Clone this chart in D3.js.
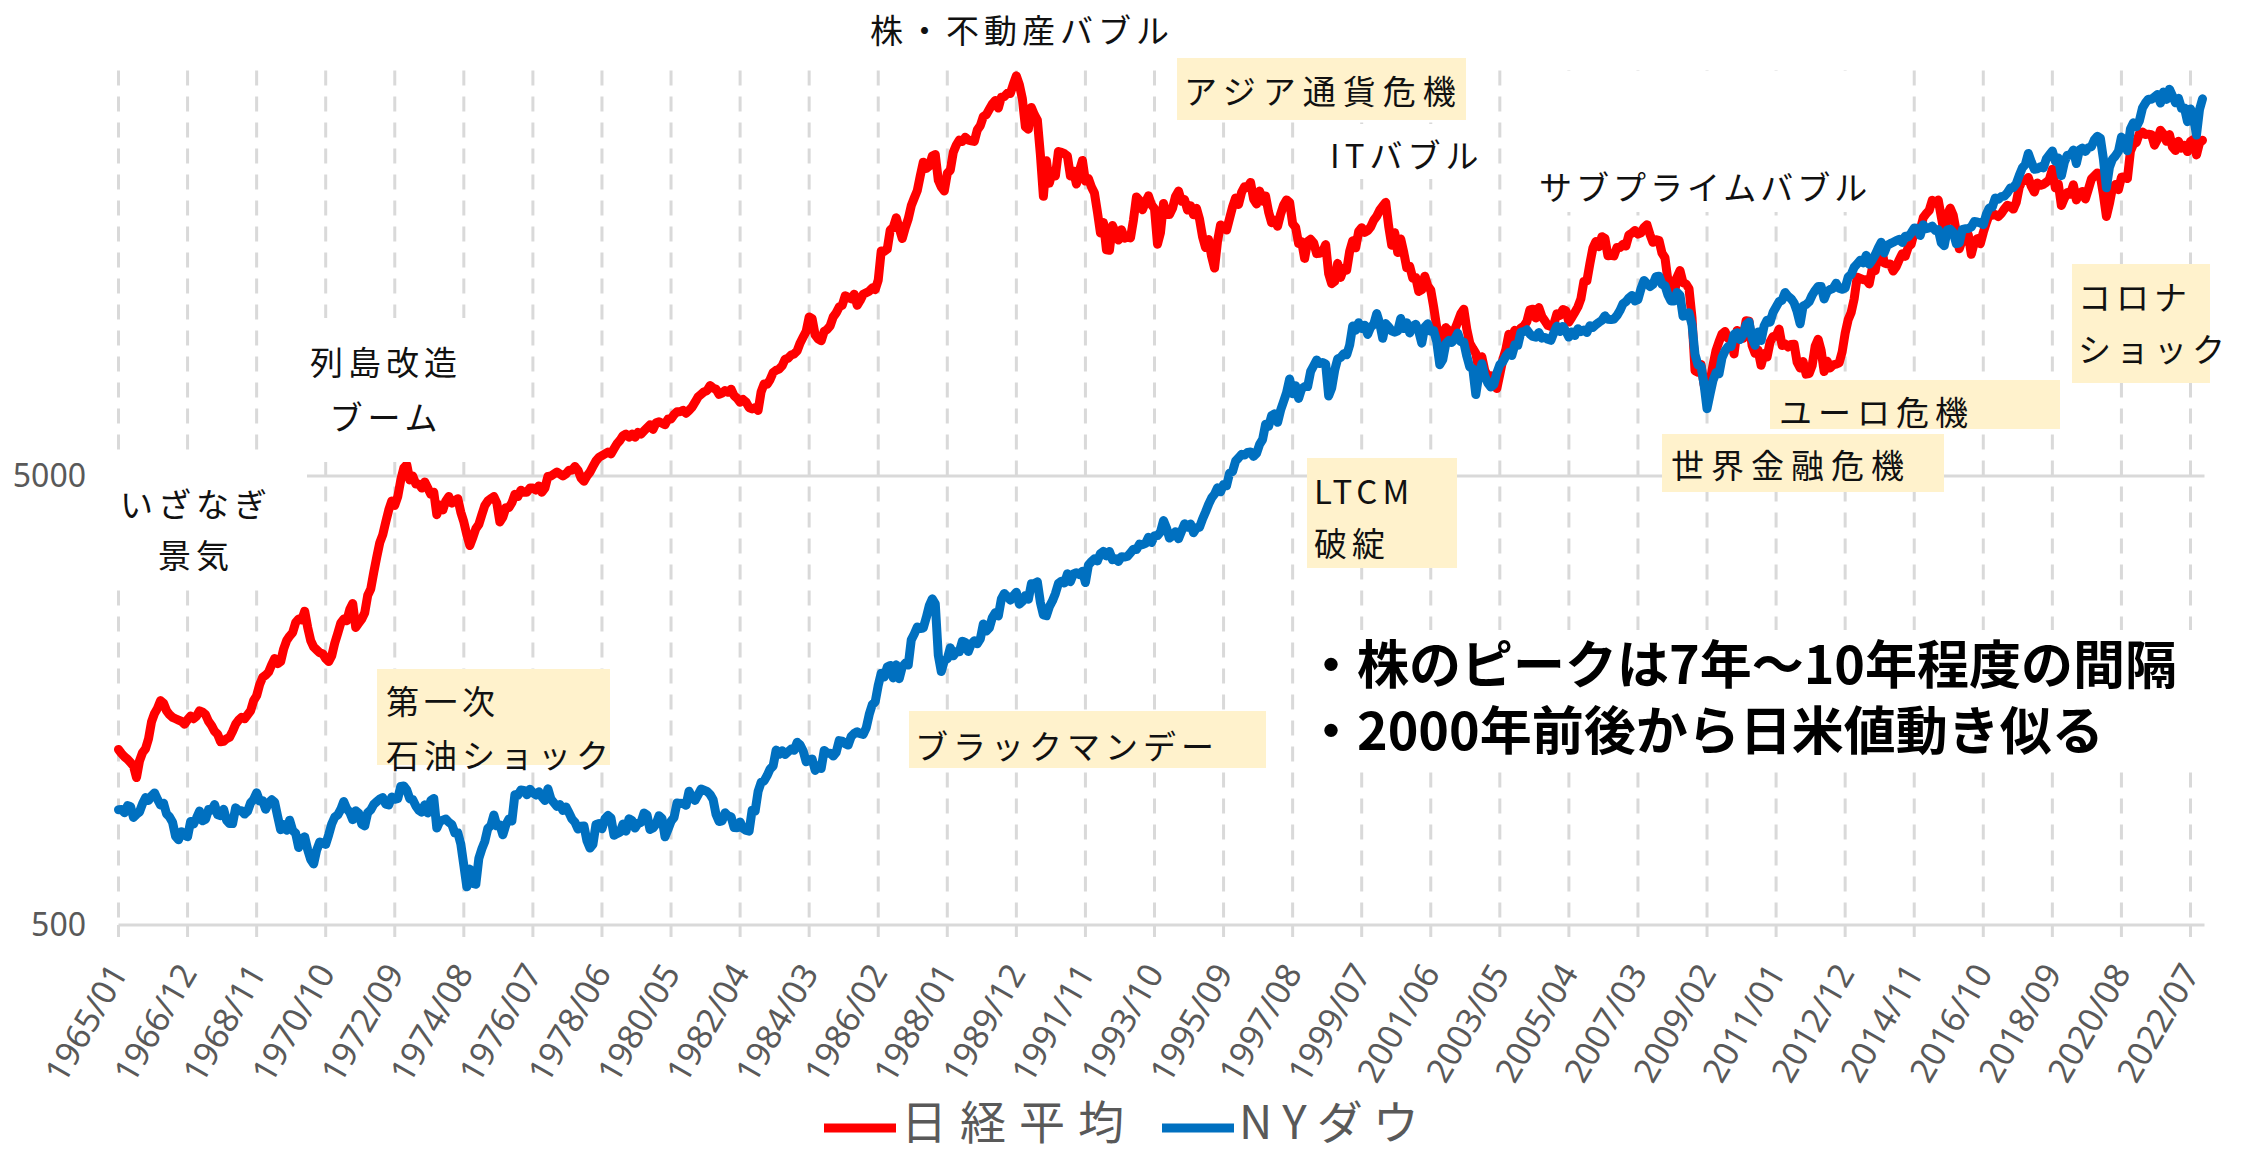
<!DOCTYPE html>
<html><head><meta charset="utf-8">
<script src="https://cdn.jsdelivr.net/npm/d3@7/dist/d3.min.js"></script>
<style>body{margin:0;background:#fff;} svg{display:block}</style>
</head><body>
<svg id="chart" width="2242" height="1153"></svg>
<script>
// ---- data ----
const startYear = 1965;
const seriesNames = ["日経平均", "NYダウ"];
// Nikkei 225 month-end (1965/01 - 2022/11)
const nikkei = [
1230,1205,1185,1170,1150,1130,1065,1160,1210,1235,1300,1418,
1480,1520,1580,1560,1500,1470,1450,1440,1430,1420,1400,1433,
1460,1440,1460,1500,1490,1470,1420,1390,1350,1330,1280,1283,
1300,1310,1350,1400,1430,1450,1440,1470,1500,1580,1620,1715,
1780,1800,1830,1900,1960,1910,1930,2060,2150,2200,2240,2359,
2400,2390,2500,2300,2150,2080,2050,2020,2010,1960,1930,1987,
2120,2230,2350,2400,2380,2520,2600,2300,2350,2400,2480,2714,
2800,3050,3300,3550,3700,3950,4200,4400,4300,4500,4900,5208,
5300,4900,5000,4800,4800,4700,4850,4700,4550,4600,4100,4307,
4200,4400,4500,4350,4400,4450,4150,3950,3700,3500,3650,3817,
3900,4100,4300,4400,4450,4500,4350,3950,4050,4250,4250,4359,
4550,4500,4650,4600,4600,4700,4700,4650,4750,4600,4700,4991,
5000,5050,5100,5050,5000,5050,5150,5150,5250,5150,4950,4866,
5000,5100,5250,5400,5500,5550,5600,5650,5600,5750,5900,6002,
6150,6200,6100,6200,6100,6250,6200,6300,6400,6500,6350,6569,
6600,6550,6500,6700,6700,6850,6950,6950,7000,6900,7000,7116,
7300,7500,7600,7700,7750,7950,7850,7800,7600,7650,7750,7682,
7800,7550,7450,7300,7400,7300,7100,7050,7100,7000,7700,8017,
8000,8200,8500,8600,8650,8800,9100,9150,9300,9350,9500,9894,
10200,10500,11300,11200,10300,10100,10000,10500,10600,10800,11300,11543,
11900,12000,12600,12500,12400,12700,12000,12300,12700,12800,12900,13113,
13000,13650,15860,15825,16000,17650,17900,18800,17800,16900,17850,18701,
20000,20800,21600,23300,25000,24200,24500,25800,26000,22800,22000,21564,
23600,24000,26300,27300,28000,27800,28400,28000,27900,27800,29500,30159,
31600,31900,32800,33700,34300,33000,34900,35000,35600,35550,37300,38916,
37200,34600,29980,29600,33100,31900,31000,25980,20980,25190,22450,23849,
23290,26410,26290,26110,25790,23290,23900,22340,23920,25220,22690,22984,
22020,21340,19350,17390,18350,15950,15910,18060,17400,16770,17680,16925,
17020,16950,18590,20920,20550,19590,20380,21030,20100,19700,16410,17417,
20230,19110,19110,19730,20970,21550,20450,20630,19560,19990,19080,19723,
18650,17050,16140,16810,15440,14520,16680,18120,17910,17650,18740,19868,
20810,20120,21410,22040,21960,22530,20690,20170,21560,20470,21020,19361,
18330,18560,18000,19150,20070,20600,20330,18230,17890,16460,16630,15259,
16630,16830,16530,15640,15670,15830,16380,14110,13410,13560,14880,13842,
14500,14370,15840,16700,16110,17530,17860,17440,17600,17940,18560,18934,
19540,19960,20340,17970,16330,17410,15730,16860,15750,14540,14650,13786,
13840,12880,13000,13930,13260,12970,11860,10710,9770,10370,10700,10543,
9990,10590,11020,11490,11760,10620,9880,9620,9380,8640,9220,8579,
8340,8360,7970,7830,8420,9080,9560,10340,10220,10560,10100,10677,
10780,11040,11720,11760,11240,11860,11330,11080,10820,10770,10900,11489,
11390,11740,11670,11010,11280,11580,11900,12410,13570,13610,14870,16111,
16650,16210,17060,16910,15470,15510,15460,16140,16130,16400,16270,17226,
17380,17600,17290,17400,17880,18140,17250,16570,16790,16740,15680,15308,
13590,13600,12530,13850,14340,13480,13380,13070,11260,8580,8510,8860,
7990,7570,8110,8830,9520,9960,10360,10490,10130,10030,9350,10546,
10200,10130,11090,11060,9770,9380,9540,8820,9370,9200,9940,10229,
10240,10620,9760,9850,9690,9820,9830,8960,8700,8990,8430,8455,
8800,9720,10080,9520,8540,9010,8700,8840,8870,8930,9450,10395,
11140,11560,12400,13860,13770,13680,13670,13390,14460,14330,15660,16291,
14910,14840,14830,14300,14630,15160,15620,15420,16170,16410,17460,17451,
17670,18800,19210,19520,20560,20240,20590,18890,17390,19080,19750,19034,
17520,16030,16760,16670,17230,15580,16570,16890,16450,17430,18310,19114,
19040,19120,18910,19200,19650,20030,19930,19650,20360,22010,22720,22765,
23100,22070,21450,22470,22200,22300,22550,22870,24120,21920,22350,20015,
20770,21390,21210,22260,20600,21280,21520,20700,21760,22930,23290,23657,
23210,21140,18920,20190,21880,22290,21710,23140,23190,22980,26430,27444,
27660,28970,29180,28810,28860,28790,27280,28090,29450,28890,27820,28792,
27000,26530,27820,26850,27280,26390,27800,28090,25940,27590,27970
];
// Dow Jones Industrial Average month-end (1965/01 - 2022/11)
const dow = [
903,904,889,922,918,868,882,893,931,961,947,969,
984,952,925,934,884,870,847,788,774,807,792,786,
850,839,866,897,853,860,904,901,927,880,876,905,
855,841,841,912,899,898,883,896,936,952,985,944,
946,905,935,950,938,873,815,837,813,856,812,800,
744,778,786,736,700,684,734,765,761,756,794,839,
869,879,904,942,908,891,858,898,887,839,831,890,
902,928,941,954,961,929,925,964,953,956,1018,1020,
999,955,951,921,901,892,926,888,947,957,822,851,
856,861,847,837,802,802,757,679,608,666,619,616,
704,739,768,821,832,879,832,835,794,836,861,852,
975,973,999,997,975,1003,985,974,990,965,947,1005,
954,936,919,927,899,916,890,861,847,818,830,831,
770,742,756,837,841,819,862,877,866,792,799,805,
839,809,862,855,822,842,846,888,879,816,822,839,
876,863,786,817,851,868,935,933,932,924,993,964,
947,975,1004,998,992,977,952,881,850,853,889,875,
871,824,823,848,820,812,809,901,896,992,1039,1047,
1076,1113,1130,1226,1200,1222,1199,1216,1233,1225,1276,1259,
1221,1155,1165,1171,1105,1132,1115,1224,1207,1207,1189,1212,
1287,1284,1267,1258,1315,1335,1347,1334,1329,1374,1472,1547,
1571,1709,1819,1784,1877,1893,1775,1898,1768,1878,1914,1896,
2158,2224,2305,2286,2292,2419,2572,2663,2596,1994,1834,1939,
1958,2072,1988,2032,2031,2142,2129,2032,2113,2149,2115,2169,
2342,2258,2294,2419,2480,2440,2661,2737,2693,2645,2706,2753,
2591,2627,2707,2657,2877,2881,2905,2614,2452,2442,2560,2634,
2736,2882,2914,2888,3028,2907,3025,3044,3017,3069,2895,3169,
3223,3268,3235,3359,3397,3319,3394,3257,3272,3226,3305,3301,
3310,3371,3435,3428,3527,3516,3539,3651,3555,3681,3684,3754,
3978,3832,3636,3682,3758,3625,3765,3913,3843,3908,3739,3834,
3844,4011,4158,4321,4465,4556,4708,4611,4789,4755,5074,5117,
5395,5486,5587,5569,5643,5655,5529,5616,5882,6029,6522,6448,
6813,6878,6583,7009,7331,7673,8223,7622,7945,7442,7823,7908,
7907,8546,8800,9063,8900,8952,8883,7539,7843,8592,9117,9181,
9359,9307,9786,10789,10560,10971,10655,10829,10337,10730,10878,11497,
10941,10128,10922,10734,10522,10448,10522,11215,10651,10971,10414,10787,
10887,10495,9879,10735,10912,10502,10523,9950,8848,9075,9852,10022,
9920,10106,10404,9946,9925,9243,8737,8664,7592,8397,8896,8342,
8054,7891,7992,8480,8850,8985,9234,9416,9275,9801,9782,10454,
10488,10584,10358,10226,10188,10435,10140,10174,10080,10027,10428,10783,
10490,10766,10504,10193,10467,10275,10641,10482,10569,10440,10806,10718,
10865,10993,11109,11367,11168,11150,11186,11381,11679,12081,12222,12463,
12622,12269,12354,13063,13628,13409,13212,13358,13896,13930,13372,13265,
12650,12266,12263,12820,12638,11350,11378,11544,10851,9325,8829,8776,
8001,7063,7609,8168,8500,8447,9172,9496,9712,9713,10345,10428,
10067,10325,10857,11009,10137,9774,10466,10015,10788,11118,11006,11578,
11892,12226,12320,12811,12570,12414,12143,11614,10913,11955,12046,12218,
12633,12952,13212,13214,12393,12880,13009,13091,13437,13096,13026,13104,
13861,14054,14579,14840,15116,14910,15500,14810,15130,15546,16086,16577,
15699,16322,16458,16581,16717,16827,16563,17098,17043,17391,17828,17823,
17165,18133,17776,17841,18011,17620,17690,16528,16285,17664,17720,17425,
16466,16517,17685,17774,17787,17930,18432,18401,18308,18142,19124,19763,
19864,20812,20663,20941,21009,21350,21891,21948,22405,23377,24272,24719,
26149,25029,24103,24163,24416,24271,25415,25965,26458,25116,25538,23327,
25000,25916,25929,26593,24815,26600,26864,26403,26917,27046,28051,28538,
28256,25409,21917,24346,25383,25813,26428,28430,27782,26502,29639,30606,
29983,30932,32982,33875,34529,34503,34935,35361,33844,35820,34484,36338,
35132,33893,34678,32977,32990,30775,32845,31510,28726,32733,34590
];
const xTickLabels = ["1965/01","1966/12","1968/11","1970/10","1972/09","1974/08","1976/07","1978/06","1980/05","1982/04","1984/03","1986/02","1988/01","1989/12","1991/11","1993/10","1995/09","1997/08","1999/07","2001/06","2003/05","2005/04","2007/03","2009/02","2011/01","2012/12","2014/11","2016/10","2018/09","2020/08","2022/07"];
const yTickValues = [500, 5000];
// monthly categories
const months = nikkei.map((_, i) => {
  const y = startYear + Math.floor(i / 12), m = (i % 12) + 1;
  return y + "/" + String(m).padStart(2, "0");
});

// ---- drawing ----
const svg = d3.select("#chart");
const plot = {left: 118.5, right: 2202.5, top: 70.5, bottom: 925};
const x = d3.scalePoint().domain(months).range([plot.left, plot.right]);
const y = d3.scaleLog().domain([500, 40000]).range([plot.bottom, plot.top]);
const gridColor = "#D9D9D9";
const labelColor = "#595959";
const cjk = "'Noto Sans CJK JP','Noto Sans',sans-serif";

// vertical dashed gridlines
const gv = svg.append("g");
gv.selectAll("line.vg").data(xTickLabels).join("line")
  .attr("x1", d => x(d)).attr("x2", d => x(d))
  .attr("y1", plot.top).attr("y2", plot.bottom)
  .attr("stroke", gridColor).attr("stroke-width", 3).attr("stroke-dasharray", "15,11");
gv.selectAll("line.tk").data(xTickLabels).join("line")
  .attr("x1", d => x(d)).attr("x2", d => x(d))
  .attr("y1", plot.bottom).attr("y2", plot.bottom + 12)
  .attr("stroke", gridColor).attr("stroke-width", 3);

// horizontal gridlines
svg.append("g").selectAll("line").data(yTickValues).join("line")
  .attr("x1", plot.left).attr("x2", plot.right + 2)
  .attr("y1", d => y(d)).attr("y2", d => y(d))
  .attr("stroke", gridColor).attr("stroke-width", 3);

// y labels
svg.append("g").selectAll("text").data(yTickValues).join("text")
  .attr("x", 86).attr("y", d => y(d)).attr("dy", "0.35em")
  .attr("text-anchor", "end").attr("fill", labelColor)
  .attr("font-family", "'Liberation Sans Narrow','Noto Sans',sans-serif").attr("font-size", 32)
  .text(d => d);

// x labels
svg.append("g").selectAll("text").data(xTickLabels).join("text")
  .attr("transform", d => `translate(${x(d)},${plot.bottom + 42}) rotate(-60)`)
  .attr("text-anchor", "end").attr("dy", "0.35em").attr("fill", labelColor)
  .attr("font-family", "'Liberation Sans Narrow','Noto Sans',sans-serif").attr("font-size", 34)
  .text(d => d);

// lines
const line = d3.line().x((d, i) => x(months[i])).y(d => y(d)).curve(d3.curveLinear);
svg.append("path").datum(nikkei).attr("d", line).attr("fill", "none")
  .attr("stroke", "#FF0000").attr("stroke-width", 9).attr("stroke-linejoin", "round").attr("stroke-linecap", "round");
svg.append("path").datum(dow).attr("d", line).attr("fill", "none")
  .attr("stroke", "#0070C0").attr("stroke-width", 9).attr("stroke-linejoin", "round").attr("stroke-linecap", "round");

// annotations
const yellow = "#FFF2CC";
const annos = [
  {box:[100,460,307,590], fill:"#fff", lines:["いざなぎ","景気"], anchor:"middle", tx:196, ty:[503,554], ls:5},
  {box:[290,318,478,462], fill:"#fff", lines:["列島改造","ブーム"], anchor:"middle", tx:386, ty:[361,416], ls:5},
  {box:null, lines:["株・不動産バブル"], anchor:"middle", tx:1022, ty:[29], ls:5},
  {box:[1177,58,1466,120], fill:yellow, lines:["アジア通貨危機"], anchor:"start", tx:1184, ty:[90], ls:7},
  {box:[1320,124,1495,179], fill:"#fff", lines:["ITバブル"], anchor:"start", tx:1330, ty:[154], ls:5},
  {box:[1530,71,1875,212], fill:"#fff", lines:["サブプライムバブル"], anchor:"start", tx:1539, ty:[186], ls:4},
  {box:[377,669,610,765], fill:yellow, lines:["第一次","石油ショック"], anchor:"start", tx:386, ty:[700,754], ls:5},
  {box:[909,711,1266,768], fill:yellow, lines:["ブラックマンデー"], anchor:"start", tx:915, ty:[745], ls:5},
  {box:[1307,458,1457,568], fill:yellow, lines:["LTCM","破綻"], anchor:"start", tx:1314, ty:[490,542], ls:5},
  {box:[1662,434,1944,492], fill:yellow, lines:["世界金融危機"], anchor:"start", tx:1671, ty:[464], ls:7},
  {box:[1770,380,2060,429], fill:yellow, lines:["ユーロ危機"], anchor:"start", tx:1779, ty:[411], ls:6},
  {box:[2072,264,2210,383], fill:yellow, lines:["コロナ","ショック"], anchor:"start", tx:2078, ty:[296,348], ls:5}
];
const ga = svg.append("g");
annos.forEach(a => {
  if (a.box) ga.append("rect").attr("x", a.box[0]).attr("y", a.box[1])
    .attr("width", a.box[2] - a.box[0]).attr("height", a.box[3] - a.box[1]).attr("fill", a.fill);
  a.lines.forEach((t, k) => {
    ga.append("text").attr("x", a.tx).attr("y", a.ty[k]).attr("dominant-baseline", "central")
      .attr("text-anchor", a.anchor).attr("font-family", cjk).attr("font-size", 33)
      .attr("letter-spacing", a.ls).attr("fill", "#111").text(t);
  });
});

// bold message
const msg = ["・株のピークは7年〜10年程度の間隔", "・2000年前後から日米値動き似る"];
ga.append("rect").attr("x", 1300).attr("y", 630).attr("width", 895).attr("height", 132).attr("fill", "#fff");
msg.forEach((t, k) => {
  ga.append("text").attr("x", 1305).attr("y", [661, 727][k]).attr("dominant-baseline", "central")
    .attr("font-family", cjk).attr("font-weight", 700).attr("font-size", 52).attr("fill", "#000").text(t);
});

// legend
const lg = svg.append("g");
const legendItems = [
  {name: seriesNames[0], color: "#FF0000", x0: 824, ls: 13},
  {name: seriesNames[1], color: "#0070C0", x0: 1162, ls: 10}
];
legendItems.forEach(it => {
  lg.append("line").attr("x1", it.x0).attr("x2", it.x0 + 72).attr("y1", 1128).attr("y2", 1128)
    .attr("stroke", it.color).attr("stroke-width", 9);
  lg.append("text").attr("x", it.x0 + 77).attr("y", 1119).attr("dominant-baseline", "central")
    .attr("font-family", cjk).attr("font-size", 46).attr("letter-spacing", it.ls).attr("fill", labelColor).text(it.name);
});
</script>
</body></html>
